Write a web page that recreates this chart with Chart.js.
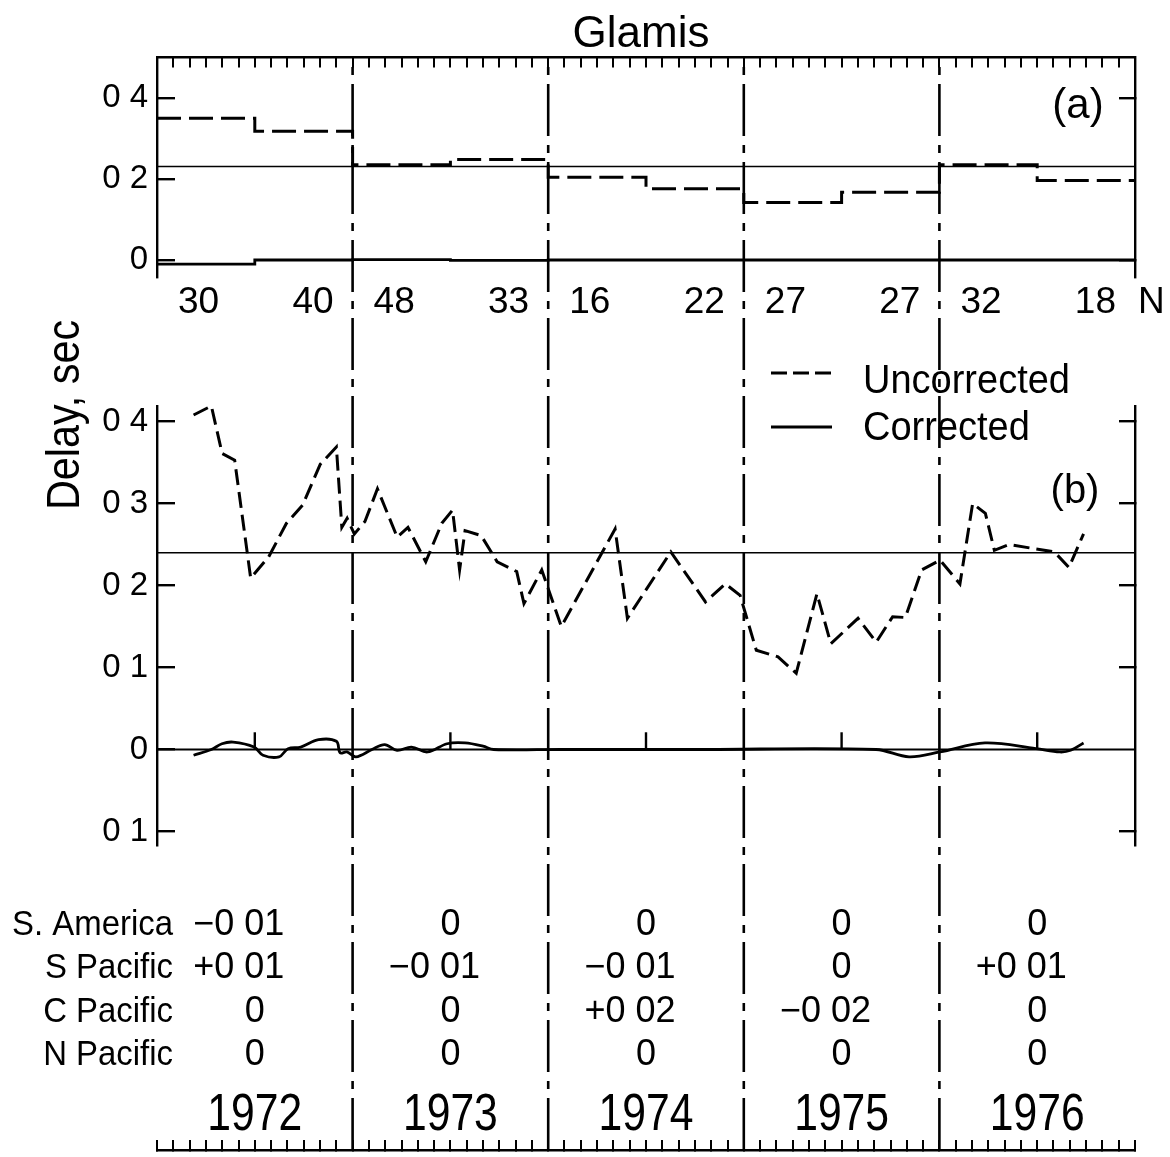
<!DOCTYPE html>
<html><head><meta charset="utf-8">
<script src="https://cdn.jsdelivr.net/npm/chart.js@4.4.1/dist/chart.umd.min.js"></script>
<style>
html,body{margin:0;padding:0;background:#fff;overflow:hidden;}
#wrap{position:relative;width:1170px;height:1157px;background:#fff;}
canvas{position:absolute;left:0;top:0;}
</style></head><body>
<div id="wrap">
<canvas id="bg" width="1170" height="1157"></canvas>
<canvas id="pb" width="1170" height="1157"></canvas>
<canvas id="pa" width="1170" height="1157"></canvas>
</div>
<script>
// ================= DATA =================
const TITLE = 'Glamis';
const Y_TITLE = 'Delay, sec';
const YEAR_LABELS = ['1972', '1973', '1974', '1975', '1976'];
const YEAR_STARTS = [1972, 1973, 1974, 1975, 1976];
const YEAR_BOUNDARIES = [1973, 1974, 1975, 1976];

// Panel (a): half-year means
const HALF_EDGES = [1972, 1972.5, 1973, 1973.5, 1974, 1974.5, 1975, 1975.5, 1976, 1976.5, 1977];
const UNCORR_A = [0.350, 0.318, 0.235, 0.248, 0.204, 0.176, 0.142, 0.167, 0.235, 0.196];
const CORR_A   = [-0.010, 0.000, 0.001, -0.001, 0.000, 0.000, 0.000, 0.000, 0.000, 0.000];
const N_COUNTS = ['30', '40', '48', '33', '16', '22', '27', '27', '32', '18'];
const MEAN_A = 0.231;

// Panel (b): individual delays
const UNCORR_B_T = [1972.187, 1972.278, 1972.333, 1972.397, 1972.479, 1972.571, 1972.662, 1972.744, 1972.835, 1972.917,
  1972.945, 1972.972, 1973.009, 1973.063, 1973.127, 1973.228, 1973.283, 1973.374, 1973.456, 1973.511,
  1973.547, 1973.575, 1973.657, 1973.739, 1973.839, 1973.876, 1973.967, 1974.067, 1974.342, 1974.405,
  1974.627, 1974.804, 1974.906, 1974.981, 1975.064, 1975.175, 1975.268, 1975.374, 1975.445, 1975.584,
  1975.677, 1975.761, 1975.826, 1975.909, 1976.003, 1976.105, 1976.170, 1976.235, 1976.281, 1976.355,
  1976.588, 1976.662, 1976.737];
const UNCORR_B = [0.408, 0.419, 0.361, 0.353, 0.209, 0.235, 0.276, 0.298, 0.348, 0.369,
  0.271, 0.282, 0.263, 0.278, 0.318, 0.259, 0.271, 0.229, 0.276, 0.292,
  0.219, 0.267, 0.261, 0.229, 0.217, 0.178, 0.219, 0.150, 0.269, 0.160,
  0.241, 0.180, 0.202, 0.188, 0.121, 0.113, 0.093, 0.190, 0.129, 0.160,
  0.131, 0.162, 0.161, 0.219, 0.231, 0.202, 0.300, 0.288, 0.243, 0.250,
  0.241, 0.222, 0.263];
const CORR_B_T = [1972.187, 1972.278, 1972.332, 1972.389, 1972.496, 1972.542, 1972.624, 1972.670, 1972.735, 1972.826,
  1972.917, 1972.936, 1972.971, 1973.017, 1973.099, 1973.164, 1973.227, 1973.301, 1973.383, 1973.483,
  1973.575, 1973.667, 1973.721, 1974.060, 1974.776, 1975.676, 1975.845, 1976.003, 1976.233, 1976.494,
  1976.616, 1976.671, 1976.737];
const CORR_B = [-0.007, 0.000, 0.007, 0.009, 0.003, -0.007, -0.009, 0.001, 0.003, 0.012,
  0.010, -0.004, -0.003, -0.009, 0.000, 0.006, -0.001, 0.003, -0.003, 0.007,
  0.008, 0.004, 0.000, 0.000, 0.000, 0.000, -0.009, -0.003, 0.008, 0.001,
  -0.003, -0.001, 0.008];
const MEAN_B = 0.24;

// Axis ticks
const TICKS_A = [0.4, 0.2, 0];
const TICK_LABELS_A = ['0 4', '0 2', '0'];
const RIGHT_TICKS_A = [0.4, 0];
const TICKS_B = [0.4, 0.3, 0.2, 0.1, 0, -0.1];
const TICK_LABELS_B = ['0 4', '0 3', '0 2', '0 1', '0', '0 1'];
const RIGHT_TICKS_B = [0.4, 0.3, 0.2, 0.1, -0.1];
const MONTH_TICKS = Array.from({length: 61}, (_, i) => 1972 + i / 12);
const MIDYEAR_TICKS = [1972.5, 1973.5, 1974.5, 1975.5, 1976.5];

// Station corrections table (rows = regions, columns = years)
const REGIONS = ['S. America', 'S Pacific', 'C Pacific', 'N Pacific'];
const CORRECTIONS = [
  ['\u22120 01', '0', '0', '0', '0'],
  ['+0 01', '\u22120 01', '\u22120 01', '0', '+0 01'],
  ['0', '0', '+0 02', '\u22120 02', '0'],
  ['0', '0', '0', '0', '0']
];
const LEGEND = ['Uncorrected', 'Corrected'];

// ================= STYLE / LAYOUT =================
const BLACK = '#000';
const FONT = '"Liberation Sans", Arial, sans-serif';
const X_MIN = 1972, X_MAX = 1977;
const PLOT_LEFT = 157, PAGE_RIGHT_PAD = 35, Y_AXIS_W = 100;

function txt(ctx, s, x, y, size, align, sx) {
  ctx.save();
  ctx.font = size + 'px ' + FONT;
  ctx.fillStyle = BLACK;
  ctx.textBaseline = 'alphabetic';
  ctx.textAlign = align || 'left';
  ctx.translate(x, y);
  ctx.scale(sx || 1, 1);
  ctx.fillText(s, 0, 0);
  ctx.restore();
}

function yAxis(pos, min, max, ticks, labels, tickLen) {
  return {
    type: 'linear', position: pos, min: min, max: max,
    afterFit: s => { s.width = pos === 'left' ? Y_AXIS_W : 0; },
    afterBuildTicks: s => { s.ticks = ticks.map(v => ({value: v})); },
    grid: {display: true, drawOnChartArea: false, drawTicks: true, tickLength: -tickLen, color: BLACK, lineWidth: 2.4},
    border: {display: true, color: BLACK, width: 2.4},
    ticks: {display: !!labels, autoSkip: false, padding: 27, color: BLACK,
      font: {family: FONT, size: 33}, callback: (v, i) => labels ? labels[i] : ''}
  };
}
function rulerAxis(pos, display) {
  return {
    type: 'linear', position: pos, min: X_MIN, max: X_MAX, display: display,
    afterFit: s => { s.height = 0; },
    afterBuildTicks: s => { s.ticks = MONTH_TICKS.map(v => ({value: v})); },
    grid: {display: true, drawOnChartArea: false, drawTicks: true, tickLength: -10, color: BLACK, lineWidth: 2},
    border: {display: true, color: BLACK, width: 2.4},
    ticks: {display: false, autoSkip: false}
  };
}
const baseOpts = {
  responsive: false, animation: false, devicePixelRatio: 1, events: [],
  plugins: {legend: {display: false}, tooltip: {enabled: false}}
};
function line(data, width, dash, extra) {
  return Object.assign({data: data, borderColor: BLACK, borderWidth: width, borderDash: dash || [],
    pointRadius: 0, fill: false, tension: 0}, extra || {});
}

// ================= BACKGROUND (year lines, ruler, texts) =================
const textPlugin = {
  id: 'texts',
  afterDraw(chart) {
    const ctx = chart.ctx, xs = chart.scales.x;
    txt(ctx, TITLE, 641, 47, 44, 'center', 1);
    // N counts under panel (a)
    N_COUNTS.forEach((n, i) => {
      if (i % 2 === 0) txt(ctx, n, xs.getPixelForValue(HALF_EDGES[i]) + 21, 313, 37, 'left', 1);
      else txt(ctx, n, xs.getPixelForValue(HALF_EDGES[i + 1]) - 19, 313, 37, 'right', 1);
    });
    txt(ctx, 'N', xs.getPixelForValue(X_MAX) + 3, 313, 37, 'left', 1);
    // y title
    ctx.save();
    ctx.translate(79, 415);
    ctx.rotate(-Math.PI / 2);
    txt(ctx, Y_TITLE, 0, 0, 46, 'center', 0.9);
    ctx.restore();
    // table
    const rowBase = [935, 978, 1022, 1065];
    REGIONS.forEach((r, ri) => {
      txt(ctx, r, 173, rowBase[ri], 35, 'right', 0.94);
      CORRECTIONS[ri].forEach((v, yi) => {
        const cx = xs.getPixelForValue(YEAR_STARTS[yi] + 0.5) - (v.length > 1 ? 16 : 0);
        txt(ctx, v, cx, rowBase[ri], 36, 'center', 1);
      });
    });
    YEAR_LABELS.forEach((y, i) => {
      txt(ctx, y, xs.getPixelForValue(YEAR_STARTS[i] + 0.5), 1130, 52, 'center', 0.82);
    });
  }
};
new Chart(document.getElementById('bg'), {
  type: 'line',
  data: {datasets: YEAR_BOUNDARIES.map(t => line([{x: t, y: 0}, {x: t, y: 1}], 2.6, [52, 9, 8, 9]))},
  options: Object.assign({}, baseOpts, {
    layout: {padding: {left: PLOT_LEFT, right: PAGE_RIGHT_PAD, top: 57.5, bottom: 7}},
    scales: {x: rulerAxis('bottom', true), y: {type: 'linear', display: false, min: 0, max: 1}}
  }),
  plugins: [textPlugin]
});

// ================= PANEL (b) =================
const panelBPlugin = {
  id: 'panelB',
  afterDatasetsDraw(chart) {
    const ctx = chart.ctx, xs = chart.scales.x, ys = chart.scales.y;
    ctx.save();
    ctx.strokeStyle = BLACK; ctx.lineWidth = 2.4;
    MIDYEAR_TICKS.forEach(t => {
      const x = xs.getPixelForValue(t);
      ctx.beginPath();
      ctx.moveTo(x, ys.getPixelForValue(0));
      ctx.lineTo(x, ys.getPixelForValue(0.021));
      ctx.stroke();
    });
    // legend
    const ds = chart.data.datasets;
    [[373, 393], [427, 440]].forEach((p, i) => {
      ctx.save();
      ctx.lineWidth = ds[i].borderWidth;
      ctx.setLineDash(i === 0 ? [16, 6] : []);
      ctx.beginPath(); ctx.moveTo(771, p[0]); ctx.lineTo(832, p[0]); ctx.stroke();
      ctx.restore();
      txt(ctx, LEGEND[i], 863, p[1], 40, 'left', 0.95);
    });
    txt(ctx, '(b)', 1075, 503, 40, 'center', 1);
    ctx.restore();
  }
};
new Chart(document.getElementById('pb'), {
  type: 'line',
  data: {datasets: [
    line(UNCORR_B_T.map((t, i) => ({x: t, y: UNCORR_B[i]})), 3, [16, 7]),
    line(CORR_B_T.map((t, i) => ({x: t, y: CORR_B[i]})), 2.8, [], {tension: 0.35}),
    line([{x: X_MIN, y: MEAN_B}, {x: X_MAX, y: MEAN_B}], 1.6),
    line([{x: X_MIN, y: 0}, {x: X_MAX, y: 0}], 2.2)
  ]},
  options: Object.assign({}, baseOpts, {
    layout: {padding: {left: PLOT_LEFT - Y_AXIS_W, right: PAGE_RIGHT_PAD, top: 406, bottom: 312}},
    scales: {
      x: {type: 'linear', display: false, min: X_MIN, max: X_MAX},
      y: yAxis('left', -0.1165, 0.419, TICKS_B, TICK_LABELS_B, 18),
      y2: yAxis('right', -0.1165, 0.419, RIGHT_TICKS_B, null, 16)
    }
  }),
  plugins: [panelBPlugin]
});

// ================= PANEL (a) =================
function steps(vals) {
  return HALF_EDGES.map((t, i) => ({x: t, y: vals[Math.min(i, vals.length - 1)]}));
}
const panelAPlugin = {
  id: 'panelA',
  afterDraw(chart) { txt(chart.ctx, '(a)', 1078, 118, 42, 'center', 1); }
};
new Chart(document.getElementById('pa'), {
  type: 'line',
  data: {datasets: [
    line(steps(UNCORR_A), 3, [24, 8], {stepped: true}),
    line(steps(CORR_A), 2.8, [], {stepped: true}),
    line([{x: X_MIN, y: MEAN_A}, {x: X_MAX, y: MEAN_A}], 1.6)
  ]},
  options: Object.assign({}, baseOpts, {
    layout: {padding: {left: PLOT_LEFT - Y_AXIS_W, right: PAGE_RIGHT_PAD, top: 57.5, bottom: 880}},
    scales: {
      x: rulerAxis('top', true),
      y: yAxis('left', -0.042, 0.5, TICKS_A, TICK_LABELS_A, 18),
      y2: yAxis('right', -0.042, 0.5, RIGHT_TICKS_A, null, 16)
    }
  }),
  plugins: [panelAPlugin]
});
</script>
</body></html>
